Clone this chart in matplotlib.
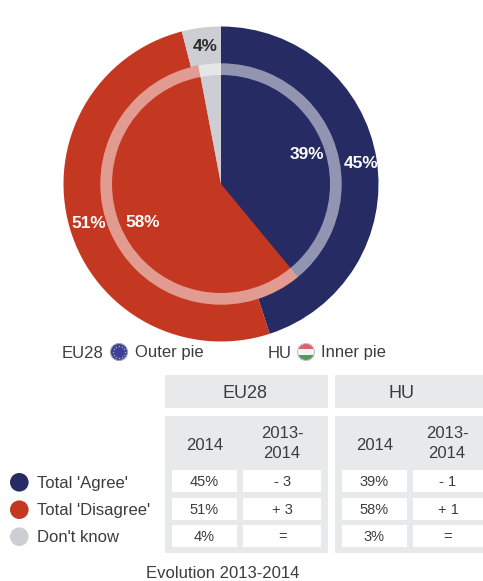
"""Outer and inner pie, EU28 against HU, with the evolution table below.
"""
import numpy as np
import matplotlib
matplotlib.use('Agg')
import matplotlib.pyplot as plt
from matplotlib.patches import Circle, Rectangle, Wedge

plt.rcParams['font.family'] = ['Liberation Sans', 'DejaVu Sans']

categories = ["Total 'Agree'", "Total 'Disagree'", "Don't know"]
eu28_2014 = [45, 51, 4]
hu_2014 = [39, 58, 3]
eu28_change = ['- 3', '+ 3', '=']
hu_change = ['- 1', '+ 1', '=']
year_labels = ['2014', '2013-\n2014']

colors = ['#262b63', '#c43822', '#cdced3']
text_color = '#3c3c3c'
table_grey = '#e8e9eb'

fig = plt.figure(figsize=(4.83, 5.81), dpi=100)
ax = fig.add_axes([0, 0, 1, 1])

# Pies, the y axis is flipped so that growing angles run clockwise on screen
center = (221, 184)
ax.pie(eu28_2014, colors=colors, center=center, radius=157.5, startangle=-90)
ax.pie(hu_2014, colors=colors, center=center, radius=120.7, startangle=-90)
ax.add_patch(Wedge(center, 120.7, 0, 360, width=11.7, fc='white', alpha=0.5, lw=0))

ax.set_xlim(0, 483)
ax.set_ylim(581, 0)
ax.set_aspect('equal')
ax.axis('off')

# Value labels on the pies
ax.text(360.7, 163.2, f'{eu28_2014[0]}%', color='white', fontsize=12.4, weight='bold', ha='center', va='center')
ax.text(89, 223.8, f'{eu28_2014[1]}%', color='white', fontsize=12.4, weight='bold', ha='center', va='center')
ax.text(205.3, 46.5, f'{eu28_2014[2]}%', color='#2b2b2b', fontsize=12.4, weight='bold', ha='center', va='center')
ax.text(307.3, 154.8, f'{hu_2014[0]}%', color='white', fontsize=12.4, weight='bold', ha='center', va='center')
ax.text(142.3, 222.8, f'{hu_2014[1]}%', color='white', fontsize=12.4, weight='bold', ha='center', va='center')

# Caption under the pie with the two round flags
ax.text(62, 353, 'EU28', color=text_color, fontsize=12, va='center')
ax.text(135, 353, 'Outer pie', color=text_color, fontsize=12, va='center')
ax.text(268, 353, 'HU', color=text_color, fontsize=12, va='center')
ax.text(321, 353, 'Inner pie', color=text_color, fontsize=12, va='center')

eu_flag = Circle((119, 352), 8.5, fc='#3b4199', ec='#9a9cc0', lw=0.8)
ax.add_patch(eu_flag)
star_angles = np.arange(12) * 2 * np.pi / 12
ax.scatter(119 + 5.6 * np.cos(star_angles), 352 + 5.6 * np.sin(star_angles),
           s=2.5, marker='*', color='#d8c95a', lw=0, zorder=3)

hu_outline = Circle((306, 352), 8.5, fc='none', ec='#c0c0c0', lw=0.8, zorder=4)
ax.add_patch(hu_outline)
for i, band in enumerate(['#e0606a', '#f4f4f4', '#4f9a5c']):
    stripe = Rectangle((297.5, 343.5 + i * 17 / 3), 17, 17 / 3, fc=band, lw=0, zorder=3)
    ax.add_patch(stripe)
    stripe.set_clip_path(hu_outline)

# Legend
for y, label, color in zip([482.3, 509.7, 536.7], categories, colors):
    ax.add_patch(Circle((19.3, y), 9.3, fc=color, lw=0))
    ax.text(37, y + 1, label, color=text_color, fontsize=12, va='center')

# Table
rows_y = [(470.3, 492.3), (498, 520), (525.3, 547)]
blocks = [
    ('EU28', 165, 327.7, (172, 236.7), (243, 321.3), eu28_2014, eu28_change),
    ('HU', 335, 483, (342, 406.7), (413, 483), hu_2014, hu_change),
]
for name, x0, x1, col1, col2, values, changes in blocks:
    ax.add_patch(Rectangle((x0, 375), x1 - x0, 33.3, fc=table_grey, lw=0))
    ax.add_patch(Rectangle((x0, 416), x1 - x0, 137.3, fc=table_grey, lw=0))
    ax.text((x0 + x1) / 2 - (1 if name == 'EU28' else 8), 393, name, color=text_color, fontsize=13,
            ha='center', va='center')
    ax.text(sum(col1) / 2, 445, year_labels[0], color=text_color, fontsize=12, ha='center', va='center')
    ax.text(sum(col2) / 2 - (0 if name == 'EU28' else 1), 443.5, year_labels[1], color=text_color, fontsize=12,
            ha='center', va='center', linespacing=1.42)
    for (y0, y1), value, change in zip(rows_y, values, changes):
        for col, txt in [(col1, f'{value}%'), (col2, change)]:
            ax.add_patch(Rectangle((col[0], y0), col[1] - col[0], y1 - y0, fc='white', lw=0))
            ax.text(sum(col) / 2, (y0 + y1) / 2 + 1, txt, color=text_color, fontsize=10.5,
                    ha='center', va='center')

ax.text(222.7, 573, 'Evolution 2013-2014', color=text_color, fontsize=12, ha='center', va='center')

fig.savefig('out.png', dpi=100)
